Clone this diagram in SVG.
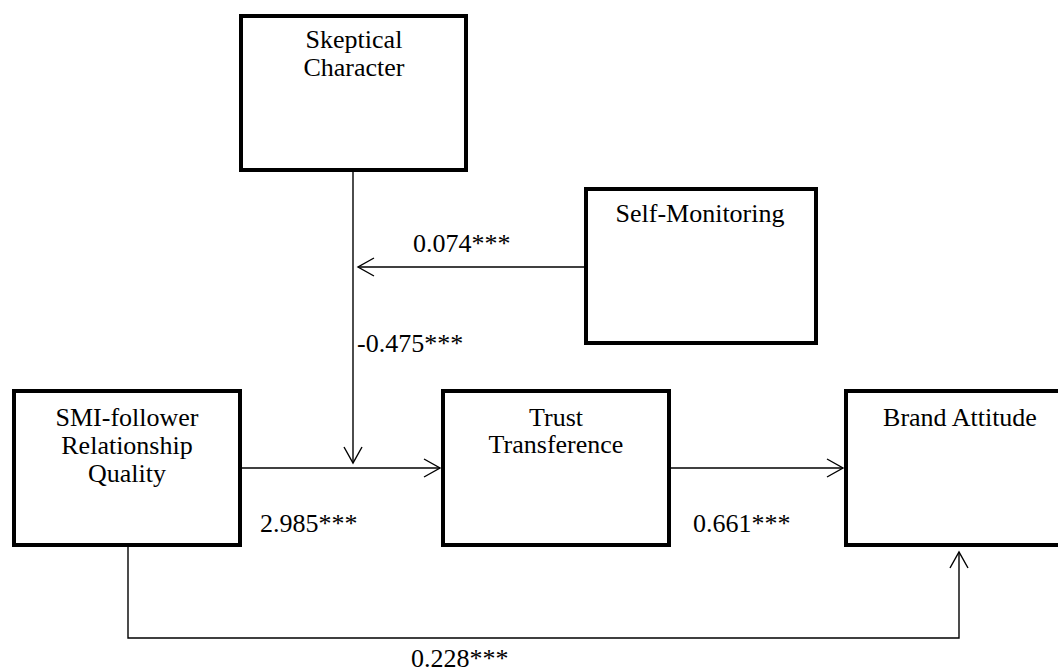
<svg xmlns="http://www.w3.org/2000/svg" width="1058" height="671" viewBox="0 0 1058 671">
<style>
.box{fill:#fff;stroke:#000;stroke-width:4}
.t{font-family:"Liberation Serif","Times New Roman",serif;font-size:26px;fill:#000}
.c{text-anchor:middle}
.ln{fill:none;stroke:#000;stroke-width:1.4}
</style>
<defs>
<marker id="ah" markerUnits="userSpaceOnUse" markerWidth="24" markerHeight="24" refX="20" refY="12" orient="auto">
<path d="M4,3 L20,12 L4,21" fill="none" stroke="#000" stroke-width="1.4"/>
</marker>
</defs>
<rect width="1058" height="671" fill="#fff"/>
<g id="connectors">
<path class="ln" d="M353,172 V463" marker-end="url(#ah)"/>
<path class="ln" d="M584,267 H358" marker-end="url(#ah)"/>
<path class="ln" d="M242,468 H440" marker-end="url(#ah)"/>
<path class="ln" d="M671,468 H843" marker-end="url(#ah)"/>
<path class="ln" d="M128,547 V638 H959 V552" marker-end="url(#ah)"/>
</g>
<g id="skeptical">
<rect class="box" x="241" y="16" width="225" height="154"/>
<text class="t c" x="354" y="48">Skeptical</text>
<text class="t c" x="354" y="76">Character</text>
</g>
<g id="selfmonitoring">
<rect class="box" x="586" y="189" width="230" height="154"/>
<text class="t c" x="700" y="222">Self-Monitoring</text>
</g>
<g id="smi">
<rect class="box" x="14" y="391" width="226" height="154"/>
<text class="t c" x="127" y="426">SMI-follower</text>
<text class="t c" x="127" y="454">Relationship</text>
<text class="t c" x="127" y="482">Quality</text>
</g>
<g id="trust">
<rect class="box" x="443" y="391" width="226" height="154"/>
<text class="t c" x="556" y="426">Trust</text>
<text class="t c" x="556" y="453">Transference</text>
</g>
<g id="brand">
<rect class="box" x="846" y="391" width="228" height="154"/>
<text class="t c" x="960" y="426">Brand Attitude</text>
</g>
<g id="labels">
<text class="t" x="413" y="252">0.074***</text>
<text class="t" x="357" y="352">-0.475***</text>
<text class="t" x="260" y="532">2.985***</text>
<text class="t" x="693" y="532">0.661***</text>
<text class="t" x="411" y="667">0.228***</text>
</g>
</svg>
